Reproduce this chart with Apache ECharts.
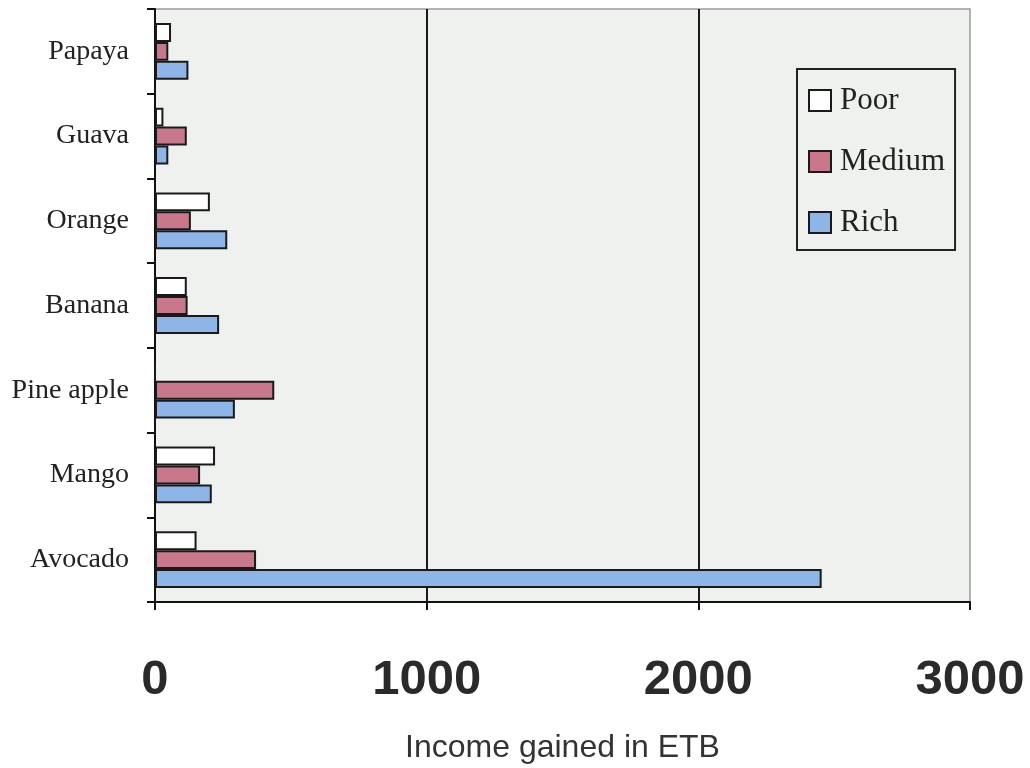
<!DOCTYPE html>
<html>
<head>
<meta charset="utf-8">
<script src="https://cdn.jsdelivr.net/npm/echarts@6/dist/echarts.min.js"></script>
<style>
  html, body { margin: 0; padding: 0; background: #ffffff; }
  #chart { width: 1030px; height: 768px; }
</style>
</head>
<body>
<div id="chart"></div>
<script>
// Fruits, listed bottom to top as they sit on the category axis
const fruits = ['Avocado', 'Mango', 'Pine apple', 'Banana', 'Orange', 'Guava', 'Papaya'];

// Income (ETB) per wealth group, same order as fruits
const poor   = [153, 221, 0, 117, 202, 31, 59];
const medium = [372, 166, 439, 120, 132, 117, 49];
const rich   = [2454, 209, 294, 236, 266, 49, 123];

const xTicks = { min: 0, max: 3000, step: 1000 };

const chart = echarts.init(document.getElementById('chart'), null, { renderer: 'canvas' });

const serif = '"Liberation Serif", "Times New Roman", serif';
const sans = '"Liberation Sans", Arial, sans-serif';

function barSeries(name, values, color) {
  return {
    name: name,
    type: 'bar',
    data: values,
    barGap: '0%',
    barCategoryGap: '33%',
    itemStyle: { color: color, borderColor: '#1a1a1a', borderWidth: 2 },
    emphasis: { disabled: true }
  };
}

chart.setOption({
  animation: false,
  backgroundColor: '#ffffff',
  grid: {
    left: 155, right: 60, top: 9, bottom: 166,
    outerBoundsMode: 'none',
    containLabel: false,
    show: true,
    backgroundColor: '#eff1ef',
    borderColor: '#9a9a9a',
    borderWidth: 1.5
  },
  legend: {
    orient: 'vertical',
    left: 797, top: 69,
    padding: [16, 10, 12, 11],
    itemGap: 30,
    itemWidth: 22, itemHeight: 21,
    borderColor: '#222222', borderWidth: 2,
    backgroundColor: '#eff1ef',
    icon: 'rect',
    itemStyle: { borderColor: '#1a1a1a', borderWidth: 2 },
    textStyle: { fontFamily: serif, fontSize: 31, color: '#222222', lineHeight: 30, padding: [0, 0, 0, 4] },
    data: ['Poor', 'Medium', 'Rich']
  },
  xAxis: {
    type: 'value',
    min: xTicks.min, max: xTicks.max, interval: xTicks.step,
    name: 'Income gained in ETB',
    nameLocation: 'middle',
    nameGap: 130,
    nameTextStyle: { fontFamily: sans, fontSize: 32, color: '#333333' },
    axisLine: { show: true, lineStyle: { color: '#111111', width: 2 } },
    axisTick: { show: true, length: 8, lineStyle: { color: '#111111', width: 2 } },
    axisLabel: {
      fontFamily: sans, fontSize: 49, fontWeight: 'bold', color: '#2a2a2a', margin: 54,
      formatter: function (v) { return String(v); }
    },
    splitLine: { show: true, showMinLine: false, showMaxLine: false, lineStyle: { color: '#1a1a1a', width: 2 } }
  },
  yAxis: {
    type: 'category',
    data: fruits,
    axisLine: { show: true, lineStyle: { color: '#111111', width: 2 } },
    axisTick: { show: true, length: 8, lineStyle: { color: '#111111', width: 2 } },
    axisLabel: { fontFamily: serif, fontSize: 28, color: '#222222', margin: 26 },
    splitLine: { show: false }
  },
  series: [
    barSeries('Poor', poor, '#ffffff'),
    barSeries('Medium', medium, '#c9788c'),
    barSeries('Rich', rich, '#8db5e8')
  ]
});
</script>
</body>
</html>
